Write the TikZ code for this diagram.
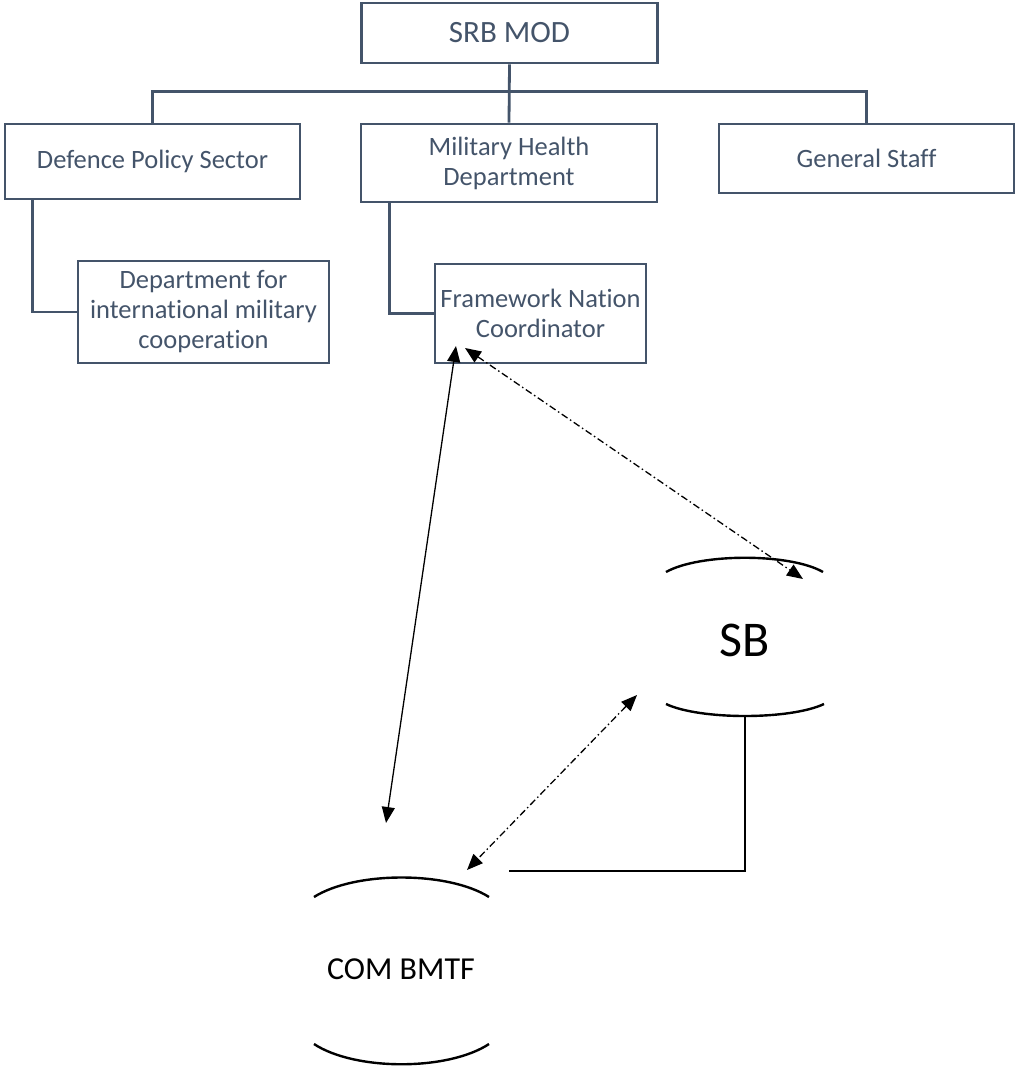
\documentclass[tikz,border=0pt]{standalone}
\usepackage{fontspec}
\setmainfont[RawFeature=-liga;-dlig]{Carlito}
\usetikzlibrary{arrows.meta}
\definecolor{slate}{HTML}{44546A}
\begin{document}
\begin{tikzpicture}[x=1pt,y=-1pt,
  orgbox/.style={draw=slate,line width=2.8pt,text=slate,align=center,inner sep=0pt,
    font=\fontsize{26.5}{30}\selectfont},
  orgline/.style={draw=slate,line width=2.8pt},
  arcline/.style={draw=black,line width=2.4pt},
  link/.style={draw=black,line width=1.3pt,{Triangle[length=16pt,width=13pt]}-{Triangle[length=16pt,width=13pt]}},
  dashdot/.style={dash pattern=on 7pt off 3pt on 1.5pt off 3pt},
  lbl/.style={inner sep=0pt,text=black}]
\useasboundingbox (0,0) rectangle (1016,1068);
% boxes
\node[orgbox,minimum width=296pt,minimum height=60pt,font=\fontsize{31}{34}\selectfont] (srb) at (509.5,33) {SRB MOD};
\node[orgbox,minimum width=295pt,minimum height=75pt] (dps) at (152.5,161.5) {Defence Policy Sector};
\node[orgbox,minimum width=296pt,minimum height=78pt] (mhd) at (509,163) {Military Health\\Department};
\node[orgbox,minimum width=295pt,minimum height=69pt] (gs) at (866.5,158.5) {General Staff};
\node[orgbox,minimum width=251pt,minimum height=102pt] (dimc) at (203.5,312) {Department for\\international military\\cooperation};
\node[orgbox,minimum width=211pt,minimum height=99pt] (fnc) at (540.5,313.5) {Framework Nation\\Coordinator};
% org connectors
\draw[orgline] (srb.south) -- (mhd.north);
\draw[orgline] (dps.north) -- ++(0,-31) coordinate (busL) -| (gs.north);
\draw[orgline] ([xshift=29pt]dps.south west) |- (dimc.west);
\draw[orgline] ([xshift=30pt]mhd.south west) |- (fnc.west);
% SB
\node[lbl,font=\fontsize{50}{54}\selectfont] (sb) at (745,640) {SB};
\draw[arcline] (666,572) .. controls (700,553) and (790,553) .. (823,572);
\draw[arcline] (666,704) .. controls (700,720) and (790,720) .. (824,704);
\coordinate (sbbot) at (745,716);
% COM BMTF
\node[lbl,font=\fontsize{32}{36}\selectfont] (com) at (401,969) {COM BMTF};
\draw[arcline] (314,897) .. controls (355,871) and (448,871) .. (489,897);
\draw[arcline] (314,1044) .. controls (355,1071) and (448,1071) .. (489,1044);
\coordinate (comright) at (509,871);
\draw[arcline] (sbbot) |- (comright);
% arrows
\coordinate (fncA) at (456,346);
\coordinate (fncB) at (465,348);
\coordinate (sbtop) at (803,579);
\coordinate (sbleft) at (637,695);
\coordinate (comtop) at (386,823);
\coordinate (comtr) at (467,870);
\draw[link] (fncA) -- (comtop);
\draw[link,dashdot] (fncB) -- (sbtop);
\draw[link,dashdot] (sbleft) -- (comtr);
\end{tikzpicture}
\end{document}
